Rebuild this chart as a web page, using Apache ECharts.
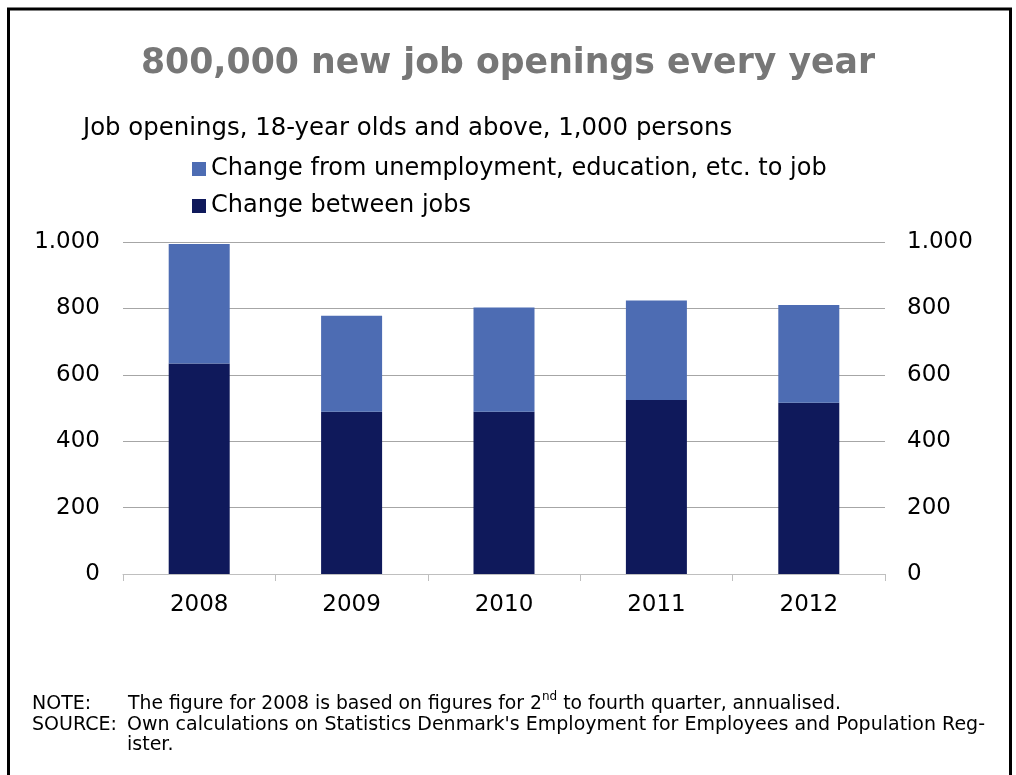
<!DOCTYPE html>
<html>
<head>
<meta charset="utf-8">
<script src="https://cdn.jsdelivr.net/npm/echarts@6/dist/echarts.min.js"></script>
<style>
  html, body { margin: 0; padding: 0; background: #fff; }
  #chart { width: 1016px; height: 775px; }
</style>
</head>
<body>
<div id="chart"></div>
<script>
// Job openings, 1,000 persons
const years = ['2008', '2009', '2010', '2011', '2012'];
const betweenJobs = [634, 489, 489, 524, 516];
const fromOutside = [360, 289, 314, 300, 294];
const yTicks = [0, 200, 400, 600, 800, 1000];

const FONT = '"DejaVu Sans", Verdana, sans-serif';
const NOTE_FONT = '19px ' + FONT;

const fmt = v => v >= 1000 ? String(v).replace(/\B(?=(\d{3})+(?!\d))/g, '.') : String(v);

const chart = echarts.init(document.getElementById('chart'), null, { renderer: 'canvas' });

const yAxisBase = {
  type: 'value',
  min: yTicks[0],
  max: yTicks[yTicks.length - 1],
  interval: 200,
  axisLine: { show: false },
  axisTick: { show: false },
  axisLabel: { color: '#000', fontFamily: FONT, fontSize: 23, formatter: fmt }
};

chart.setOption({
  animation: false,
  textStyle: { fontFamily: FONT },
  title: {
    text: '800,000 new job openings every year',
    left: 'center',
    top: 41,
    textStyle: { color: '#777', fontSize: 34.7, fontWeight: 'bold', fontFamily: FONT }
  },
  legend: {
    data: ['Change from unemployment, education, etc. to job', 'Change between jobs'],
    orient: 'vertical',
    left: 187,
    top: 152,
    itemWidth: 14,
    itemHeight: 14,
    itemGap: 13,
    icon: 'rect',
    textStyle: { color: '#000', fontSize: 24, fontFamily: FONT }
  },
  grid: { left: 123, right: 131, top: 242, bottom: 201 },
  xAxis: {
    type: 'category',
    data: years,
    axisLine: { lineStyle: { color: '#bfbfbf', width: 1 } },
    axisTick: { show: true, length: 7, lineStyle: { color: '#bfbfbf' } },
    axisLabel: { color: '#000', fontSize: 23, fontFamily: FONT, margin: 20 }
  },
  yAxis: [
    Object.assign({}, yAxisBase, {
      position: 'left',
      axisLabel: Object.assign({}, yAxisBase.axisLabel, { margin: 23 }),
      splitLine: { lineStyle: { color: '#a6a6a6', width: 1 } }
    }),
    Object.assign({}, yAxisBase, {
      position: 'right',
      axisLabel: Object.assign({}, yAxisBase.axisLabel, { margin: 22 }),
      splitLine: { show: false }
    })
  ],
  series: [
    {
      name: 'Change between jobs',
      type: 'bar',
      stack: 'total',
      data: betweenJobs,
      barWidth: 61,
      itemStyle: { color: '#0f195b' }
    },
    {
      name: 'Change from unemployment, education, etc. to job',
      type: 'bar',
      stack: 'total',
      data: fromOutside,
      barWidth: 61,
      itemStyle: { color: '#4d6cb3' }
    }
  ],
  graphic: [
    {
      type: 'rect',
      shape: { x: 8.5, y: 9, width: 1002, height: 800 },
      style: { fill: 'none', stroke: '#000', lineWidth: 3 },
      silent: true
    },
    {
      type: 'text',
      left: 83,
      top: 117,
      style: { text: 'Job openings, 18-year olds and above, 1,000 persons', fill: '#000', font: '24.4px ' + FONT }
    },
    {
      type: 'text',
      left: 32,
      top: 695,
      style: { text: 'NOTE:', fill: '#000', font: NOTE_FONT }
    },
    {
      type: 'text',
      left: 128,
      top: 691,
      style: {
        text: '{t|The figure for 2008 is based on figures for 2}{s|nd}{t| to fourth quarter, annualised.}',
        rich: {
          t: { fill: '#000', font: '18.8px ' + FONT, verticalAlign: 'bottom', lineHeight: 23 },
          s: { fill: '#000', font: '12px ' + FONT, verticalAlign: 'top', lineHeight: 23, padding: [0, 0, 7, 0] }
        }
      }
    },
    {
      type: 'text',
      left: 32,
      top: 716,
      style: { text: 'SOURCE:', fill: '#000', font: NOTE_FONT }
    },
    {
      type: 'text',
      left: 127,
      top: 716,
      style: {
        text: "Own calculations on Statistics Denmark's Employment for Employees and Population Reg-",
        fill: '#000', font: NOTE_FONT
      }
    },
    {
      type: 'text',
      left: 127,
      top: 736,
      style: { text: 'ister.', fill: '#000', font: NOTE_FONT }
    }
  ]
});
</script>
</body>
</html>
